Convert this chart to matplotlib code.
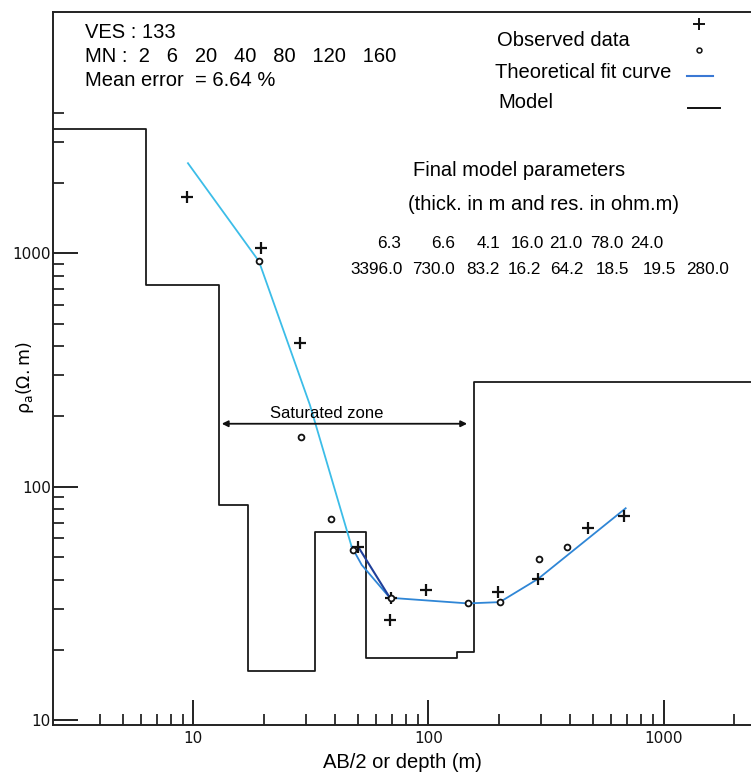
import numpy as np
import matplotlib
matplotlib.use("Agg")
import matplotlib.pyplot as plt
from matplotlib.lines import Line2D

plt.rcParams['font.family'] = ['Liberation Sans', 'DejaVu Sans']

# ---- data ----
thicknesses = [6.3, 6.6, 4.1, 16.0, 21.0, 78.0, 24.0]
resistivities = [3396.0, 730.0, 83.2, 16.2, 64.2, 18.5, 19.5, 280.0]
mn_values = [2, 6, 20, 40, 80, 120, 160]
mean_error = 6.64

obs_plus_x = [9.4, 19.4, 28.4, 50.1, 69.2, 68.5, 97.5, 198, 293, 476, 679]
obs_plus_y = [1738, 1051, 411, 55.2, 33.3, 26.9, 36.1, 35.4, 40.3, 66.5, 74.8]

obs_circ_x = [19.0, 28.8, 38.4, 47.9, 69.2, 147, 201, 295, 388]
obs_circ_y = [924, 163, 72.8, 53.5, 33.3, 31.6, 32.0, 49.0, 55.2]

fit_upper_x = [9.48, 19.0, 31.3, 47.1]
fit_upper_y = [2432, 924, 224, 55.3]
fit_branch1_x = [47.1, 52.0, 68.5]
fit_branch1_y = [55.3, 46.2, 33.4]
fit_branch2_x = [50.2, 68.5]
fit_branch2_y = [55.3, 33.4]
fit_lower_x = [68.5, 147, 201, 293, 690]
fit_lower_y = [33.4, 31.6, 32.0, 40.3, 80.8]

sat_zone_x = [13.2, 146]
sat_zone_y = 186

W, H = 751, 773
fig = plt.figure(figsize=(W / 100, H / 100), dpi=100)
ax = fig.add_axes([53.5 / W, 1 - 725 / H, 1 - 53.5 / W, (725 - 12) / H])
ax.set_xscale('log')
ax.set_yscale('log')
ax.set_xlim(2.54, 2355)
ax.set_ylim(9.52, 10810)

# model step curve
depths = np.cumsum(thicknesses)
xl = ax.get_xlim()
edges = [xl[0]] + list(depths) + [xl[1] * 1.5]
mx, my = [], []
for i, r in enumerate(resistivities):
    mx += [edges[i], edges[i + 1]]
    my += [r, r]
ax.plot(mx, my, color='#1a1a1a', lw=1.3, zorder=2)

# theoretical fit curve
ax.plot(fit_upper_x, fit_upper_y, color='#3cbde8', lw=1.3, zorder=3)
ax.plot(fit_branch1_x, fit_branch1_y, color='#2f86d6', lw=1.3, zorder=3)
ax.plot(fit_branch2_x, fit_branch2_y, color='#1f3f9a', lw=1.5, zorder=3)
ax.plot(fit_lower_x, fit_lower_y, color='#2f86d6', lw=1.3, zorder=3)

# observed data
ax.plot(obs_plus_x, obs_plus_y, ls='none', marker='+', ms=9, mew=1.6,
        color='#111111', zorder=4)
ax.plot(obs_circ_x, obs_circ_y, ls='none', marker='o', ms=4.2, mew=1.3,
        mfc='white', mec='#111111', zorder=5)

# saturated zone
ax.annotate('', xy=(sat_zone_x[0], sat_zone_y), xytext=(sat_zone_x[1], sat_zone_y),
            arrowprops=dict(arrowstyle='<|-|>', color='#111111', lw=1.3,
                            mutation_scale=9, shrinkA=0, shrinkB=0), zorder=4)
ax.text(37, 205, 'Saturated zone', ha='center', va='center', fontsize=12)

# ticks
ax.set_xticks([10, 100, 1000])
ax.set_xticklabels(['10', '100', '1000'])
xminor = [4, 5, 6, 7, 8, 9] + [k * 10 for k in range(2, 10)] + \
    [k * 100 for k in range(2, 10)] + [2000]
ax.set_xticks(xminor, minor=True)
ax.set_yticks([10, 100, 1000])
ax.set_yticklabels(['10', '100', '1000'])
yminor = [k for k in range(20, 100, 10)] + [k * 100 for k in range(2, 10)] + \
    [2000, 3000, 4000]
ax.set_yticks(yminor, minor=True)
ax.tick_params(which='major', direction='in', length=18, width=1.3,
               labelsize=11, colors='#111111')
ax.tick_params(which='minor', direction='in', length=8, width=1.1)
ax.tick_params(axis='x', which='major', pad=4)
ax.tick_params(axis='y', which='major', pad=2)
ax.yaxis.set_minor_formatter(matplotlib.ticker.NullFormatter())
ax.xaxis.set_minor_formatter(matplotlib.ticker.NullFormatter())
for lbl in ax.get_xticklabels() + ax.get_yticklabels():
    lbl.set_family('DejaVu Sans')

for s in ['left', 'bottom', 'top']:
    ax.spines[s].set_linewidth(1.4)
    ax.spines[s].set_color('#222222')
ax.spines['right'].set_visible(False)

ax.set_xlabel('AB/2 or depth (m)', fontsize=14.5, labelpad=5)
fig.text(25 / W, 1 - 378 / H, r'$\mathrm{\rho_{a}(\Omega.m)}$', rotation=90,
         ha='center', va='center', fontsize=12.5, family='DejaVu Sans')

def fx(px):
    return px / W

def fy(py):
    return 1 - py / H

# top-left info
fig.text(fx(85), fy(33), 'VES : 133', fontsize=14.5, va='center')
fig.text(fx(85), fy(57), 'MN :  ' + '   '.join(str(v) for v in mn_values),
         fontsize=14.5, va='center')
fig.text(fx(85), fy(81), 'Mean error  = %.2f %%' % mean_error, fontsize=14.5,
         va='center')

# legend
fig.text(fx(497), fy(40), 'Observed data', fontsize=14.5, va='center')
fig.text(fx(495), fy(73), 'Theoretical fit curve', fontsize=14.5, va='center')
fig.text(fx(498), fy(103), 'Model', fontsize=14.5, va='center')
fig.add_artist(Line2D([fx(699)], [fy(24)], marker='+', ms=8, mew=1.4,
                      color='#111111', transform=fig.transFigure))
fig.add_artist(Line2D([fx(699)], [fy(50)], marker='o', ms=3.5, mew=1.1,
                      mfc='white', mec='#111111', transform=fig.transFigure))
fig.add_artist(Line2D([fx(687), fx(713)], [fy(76), fy(76)], color='#3a78d4',
                      lw=1.5, transform=fig.transFigure))
fig.add_artist(Line2D([fx(688), fx(720)], [fy(108), fy(108)], color='#111111',
                      lw=1.4, transform=fig.transFigure))

# model parameters
fig.text(fx(519), fy(170), 'Final model parameters', fontsize=14.5,
         ha='center', va='center')
fig.text(fx(543), fy(204), '(thick. in m and res. in ohm.m)', fontsize=14.5,
         ha='center', va='center')
thick_cx = [389, 443, 488, 527, 566, 607, 647]
for cx, t in zip(thick_cx, thicknesses):
    fig.text(fx(cx), fy(243), '%.1f' % t, fontsize=12.3, ha='center', va='center')
res_cx = [377, 434, 483, 524, 567, 612, 659, 708]
for cx, r in zip(res_cx, resistivities):
    fig.text(fx(cx), fy(269), '%.1f' % r, fontsize=12.3, ha='center', va='center')

fig.savefig('out.png', dpi=100)
